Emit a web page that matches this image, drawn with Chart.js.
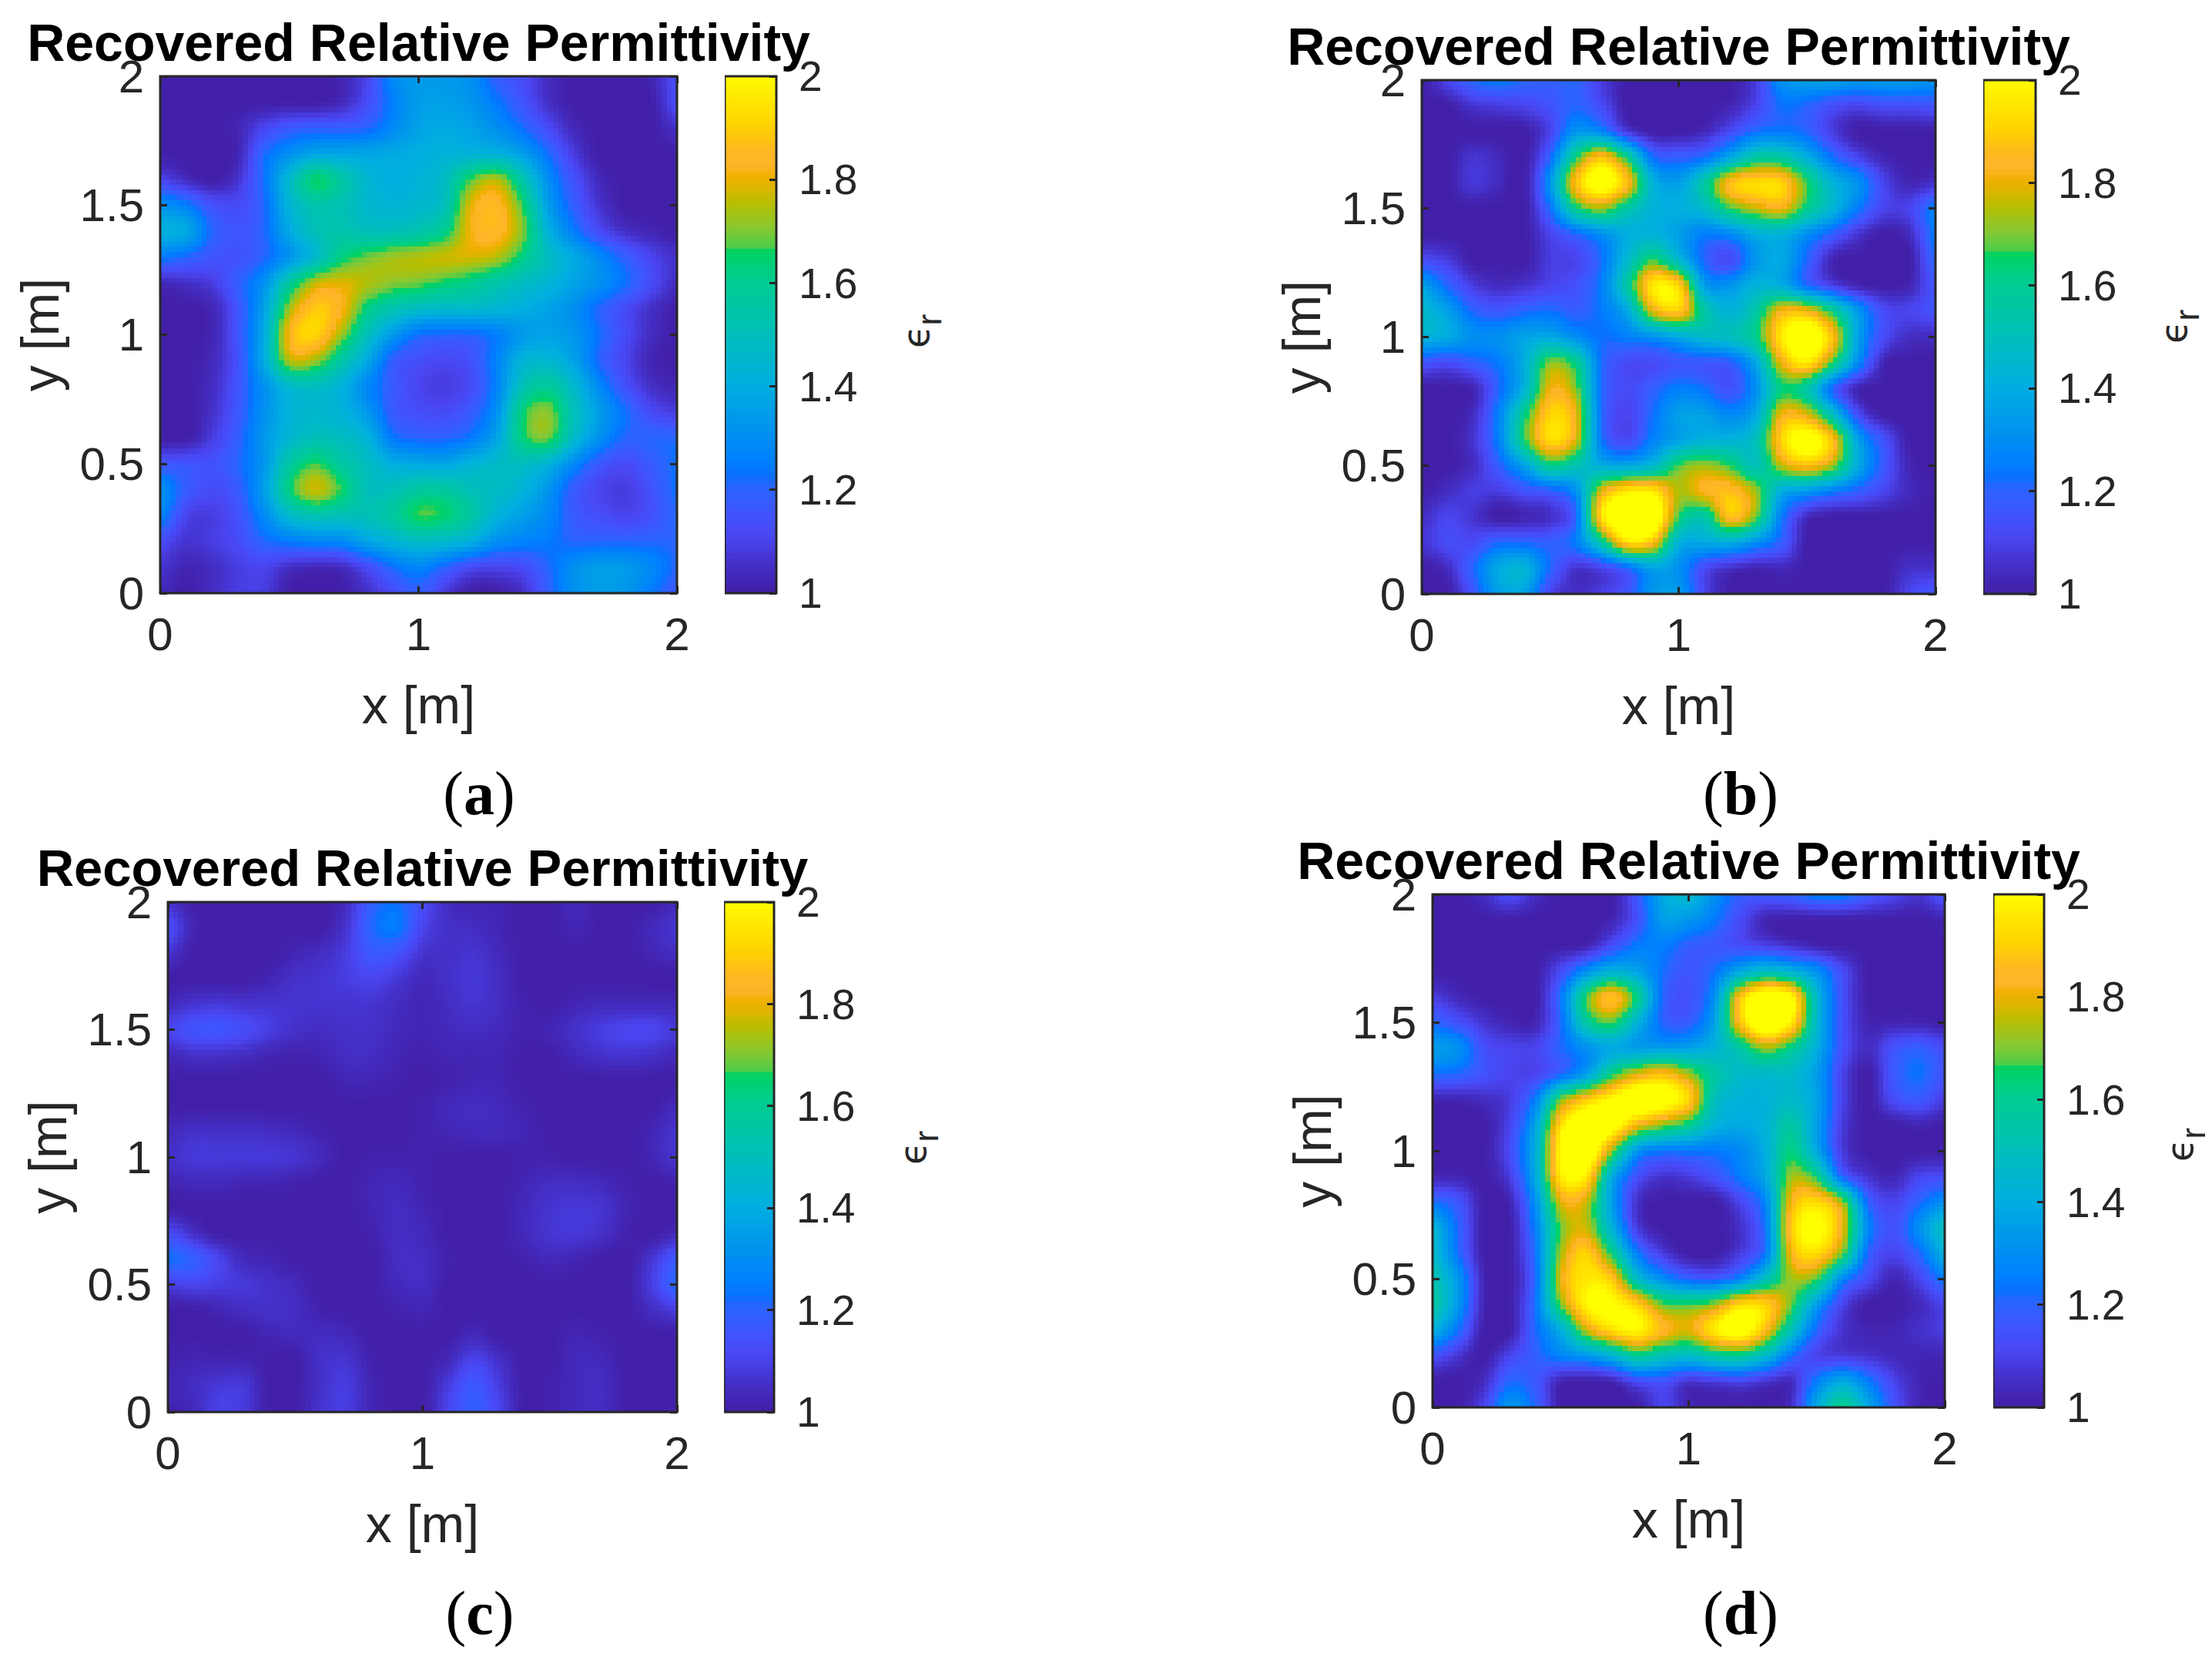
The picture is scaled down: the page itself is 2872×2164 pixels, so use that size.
<!DOCTYPE html>
<html>
<head>
<meta charset="utf-8">
<title>Recovered Relative Permittivity</title>
<script src="https://cdn.jsdelivr.net/npm/chart.js@4"></script>
<style>
  html, body { margin: 0; background: #fff; }
  #page { position: relative; width: 2872px; height: 2164px; overflow: hidden; }
  canvas { position: absolute; }
  .caption { position: absolute; transform: translateX(-50%); font: 80px "Liberation Serif", serif; color: #000; line-height: 1; }
  .caption b { font-weight: bold; }
  .eps { position: absolute; transform: translate(-50%, -50%) rotate(-90deg); font: 48px "DejaVu Sans", sans-serif; color: #262626; white-space: nowrap; }
  .eps sub { font-size: 44px; font-family: "Liberation Sans", sans-serif; vertical-align: -16px; line-height: 0; }
</style>
</head>
<body>
<div id="page"></div>
<script>
const gridX = [0, 0.1, 0.2, 0.3, 0.4, 0.5, 0.6, 0.7, 0.8, 0.9, 1, 1.1, 1.2, 1.3, 1.4, 1.5, 1.6, 1.7, 1.8, 1.9, 2];
const gridY = [2, 1.9, 1.8, 1.7, 1.6, 1.5, 1.4, 1.3, 1.2, 1.1, 1, 0.9, 0.8, 0.7, 0.6, 0.5, 0.4, 0.3, 0.2, 0.1, 0];
const xTicks = [0, 1, 2];
const yTicks = [0, 0.5, 1, 1.5, 2];
const barTicks = [1, 1.2, 1.4, 1.6, 1.8, 2];
const titleText = 'Recovered Relative Permittivity';

// rows run from y = 2 at the top down to y = 0
const panelA = [
  [1,1,1,1,1,1,1,1.02,1.1,1.28,1.33,1.33,1.3,1.18,1.12,1.04,1,1,1,1.02,1.12],
  [1,1,1,1,1,1,1,1.03,1.12,1.25,1.34,1.35,1.32,1.24,1.15,1.05,1,1,1,1,1.12],
  [1,1,1,1.02,1.1,1.16,1.18,1.18,1.2,1.28,1.36,1.38,1.36,1.3,1.22,1.12,1.03,1,1,1,1.05],
  [1,1,1,1.02,1.2,1.3,1.37,1.37,1.37,1.38,1.4,1.42,1.42,1.42,1.35,1.22,1.08,1,1,1,1],
  [1.1,1.04,1,1.06,1.22,1.45,1.64,1.55,1.44,1.4,1.42,1.47,1.66,1.74,1.54,1.3,1.14,1.03,1,1,1],
  [1.3,1.25,1.14,1.12,1.2,1.42,1.53,1.51,1.45,1.43,1.45,1.5,1.78,1.84,1.66,1.35,1.18,1.06,1,1,1],
  [1.4,1.38,1.2,1.15,1.2,1.38,1.5,1.53,1.5,1.5,1.53,1.6,1.8,1.84,1.7,1.42,1.25,1.12,1.05,1.02,1],
  [1.24,1.2,1.15,1.14,1.2,1.32,1.46,1.62,1.68,1.72,1.74,1.76,1.77,1.74,1.62,1.48,1.38,1.28,1.18,1.1,1.05],
  [1.03,1.05,1.08,1.18,1.3,1.56,1.75,1.78,1.74,1.7,1.68,1.64,1.6,1.54,1.48,1.43,1.36,1.3,1.22,1.12,1.04],
  [1,1,1.02,1.15,1.35,1.72,1.88,1.82,1.62,1.52,1.47,1.45,1.45,1.43,1.4,1.36,1.3,1.2,1.12,1.05,1],
  [1,1,1.02,1.15,1.38,1.82,1.9,1.72,1.5,1.33,1.22,1.2,1.2,1.25,1.33,1.36,1.32,1.22,1.12,1.04,1],
  [1,1,1.03,1.14,1.38,1.74,1.72,1.55,1.38,1.18,1.13,1.11,1.14,1.26,1.42,1.44,1.36,1.2,1.1,1.02,1],
  [1,1,1.04,1.15,1.3,1.45,1.48,1.42,1.28,1.17,1.1,1.08,1.12,1.26,1.5,1.58,1.45,1.28,1.14,1.05,1.02],
  [1,1,1.05,1.16,1.3,1.42,1.45,1.42,1.33,1.17,1.13,1.12,1.17,1.3,1.62,1.7,1.5,1.34,1.22,1.12,1.08],
  [1,1,1.08,1.18,1.32,1.44,1.5,1.48,1.42,1.24,1.2,1.2,1.24,1.36,1.62,1.68,1.46,1.3,1.2,1.2,1.2],
  [1.15,1.15,1.14,1.2,1.32,1.55,1.66,1.56,1.48,1.4,1.38,1.37,1.42,1.46,1.48,1.42,1.28,1.16,1.12,1.17,1.22],
  [1.3,1.17,1.12,1.17,1.34,1.62,1.76,1.65,1.5,1.5,1.56,1.56,1.5,1.47,1.42,1.32,1.17,1.1,1.08,1.14,1.22],
  [1.26,1.1,1.08,1.14,1.28,1.45,1.52,1.5,1.5,1.56,1.66,1.64,1.55,1.42,1.35,1.28,1.17,1.13,1.1,1.14,1.2],
  [1.12,1.06,1.08,1.12,1.2,1.24,1.27,1.28,1.36,1.42,1.47,1.45,1.4,1.3,1.26,1.24,1.2,1.2,1.2,1.2,1.2],
  [1.06,1.02,1.04,1.08,1.1,1.05,1.03,1.04,1.12,1.22,1.27,1.2,1.12,1.1,1.12,1.2,1.3,1.34,1.33,1.28,1.2],
  [1.03,1,1.04,1.08,1.08,1,1,1,1.05,1.12,1.18,1.08,1,1,1.05,1.18,1.3,1.34,1.32,1.24,1.16]
];
const panelB = [
  [1,1.1,1.2,1.24,1.2,1.18,1.2,1.08,1,1,1,1,1,1.08,1.3,1.35,1.35,1.32,1.33,1.33,1.3],
  [1,1,1.06,1.08,1.1,1.14,1.2,1.12,1,1,1,1,1.02,1.1,1.22,1.2,1.13,1.1,1.13,1.13,1.15],
  [1,1,1,1,1,1.1,1.32,1.28,1.08,1,1,1.03,1.12,1.22,1.24,1.2,1.08,1,1,1,1],
  [1,1,1.06,1.03,1,1.2,1.62,1.86,1.6,1.22,1.18,1.22,1.38,1.55,1.55,1.4,1.22,1.1,1.02,1,1],
  [1,1,1.07,1.03,1,1.32,1.85,2.05,1.85,1.42,1.35,1.55,1.85,1.92,1.9,1.65,1.42,1.3,1.1,1.02,1.05],
  [1,1,1,1,1,1.22,1.6,1.72,1.55,1.42,1.4,1.46,1.65,1.75,1.8,1.6,1.42,1.24,1.1,1.1,1.25],
  [1,1,1,1,1,1.1,1.2,1.3,1.4,1.42,1.35,1.25,1.28,1.4,1.42,1.3,1.18,1.06,1,1.04,1.24],
  [1.12,1.08,1,1,1,1.08,1.1,1.22,1.45,1.65,1.45,1.2,1.12,1.32,1.38,1.2,1.02,1,1,1,1.2],
  [1.35,1.2,1.08,1.04,1.06,1.1,1.14,1.25,1.55,1.95,1.9,1.35,1.32,1.42,1.4,1.22,1.1,1.02,1,1.02,1.15],
  [1.45,1.35,1.2,1.16,1.2,1.22,1.18,1.24,1.38,1.78,1.88,1.55,1.42,1.55,1.82,1.82,1.6,1.32,1.12,1.1,1.14],
  [1.42,1.38,1.3,1.3,1.36,1.38,1.3,1.22,1.25,1.3,1.38,1.45,1.48,1.6,1.95,2.1,1.85,1.35,1.12,1.04,1.04],
  [1.15,1.12,1.18,1.24,1.4,1.7,1.6,1.22,1.12,1.12,1.16,1.16,1.18,1.38,1.8,1.95,1.65,1.28,1.02,1,1],
  [1,1,1.02,1.2,1.42,1.8,1.7,1.22,1.12,1.18,1.25,1.22,1.14,1.3,1.62,1.55,1.2,1.02,1,1,1],
  [1,1,1.04,1.26,1.6,1.9,1.8,1.22,1.1,1.22,1.35,1.35,1.28,1.38,1.8,1.78,1.48,1.12,1,1,1],
  [1,1,1.06,1.26,1.64,1.92,1.78,1.24,1.12,1.26,1.36,1.42,1.42,1.5,1.9,2.05,1.85,1.35,1.14,1,1],
  [1,1,1.04,1.18,1.36,1.6,1.52,1.4,1.38,1.45,1.66,1.72,1.65,1.5,1.75,1.85,1.72,1.38,1.16,1.02,1],
  [1,1.04,1.08,1.08,1.14,1.18,1.3,1.78,1.95,1.95,1.74,1.82,1.86,1.72,1.4,1.33,1.25,1.18,1.1,1.03,1],
  [1.04,1.1,1.06,1,1.02,1.05,1.2,1.92,2.15,2.12,1.65,1.55,1.86,1.68,1.25,1.04,1,1,1,1,1],
  [1.06,1.12,1.12,1.2,1.2,1.18,1.25,1.55,1.92,1.85,1.42,1.38,1.4,1.3,1.18,1,1,1,1,1,1],
  [1,1.04,1.2,1.38,1.42,1.2,1.06,1.1,1.2,1.36,1.3,1.12,1.05,1.02,1.03,1,1,1,1,1.05,1.05],
  [1,1,1.15,1.35,1.36,1.1,1.04,1.08,1.15,1.32,1.33,1.1,1,1,1,1,1,1,1,1.1,1.15]
];
const panelC = [
  [1.05,1,1,1,1,1,1,1.04,1.18,1.22,1.12,1.04,1.02,1.02,1,1,1.03,1,1,1,1.03],
  [1.12,1.02,1,1,1,1,1,1.06,1.2,1.24,1.1,1.05,1.04,1.02,1,1,1.02,1,1,1.03,1.06],
  [1.06,1,1,1,1,1.02,1.04,1.08,1.16,1.14,1.06,1.05,1.06,1.03,1,1,1,1,1,1.02,1.04],
  [1,1,1,1,1.02,1.05,1.06,1.08,1.1,1.07,1.03,1.05,1.07,1.04,1,1,1,1,1,1,1],
  [1.03,1.06,1.07,1.06,1.06,1.06,1.06,1.06,1.06,1.04,1.02,1.04,1.06,1.04,1.01,1,1.02,1.03,1.03,1.03,1.03],
  [1.1,1.14,1.15,1.12,1.08,1.05,1.04,1.05,1.05,1.03,1.02,1.03,1.04,1.03,1.01,1.02,1.05,1.08,1.1,1.1,1.07],
  [1.03,1.05,1.05,1.04,1.02,1.01,1.02,1.04,1.04,1.02,1.01,1.02,1.02,1.02,1,1,1.03,1.05,1.06,1.05,1.03],
  [1,1,1,1,1,1,1,1.02,1.02,1.01,1,1.01,1.02,1.02,1,1,1,1,1,1,1],
  [1,1,1,1,1,1,1,1,1,1,1.01,1.03,1.04,1.03,1.01,1,1,1,1,1,1.03],
  [1.03,1.05,1.05,1.05,1.04,1.03,1.01,1,1,1,1.01,1.02,1.03,1.03,1.02,1,1,1,1,1.02,1.06],
  [1.05,1.07,1.07,1.07,1.07,1.06,1.03,1,1.01,1.01,1.01,1,1,1,1.01,1.01,1,1,1,1.02,1.06],
  [1.02,1.03,1.03,1.02,1.02,1.01,1,1,1.02,1.03,1.01,1,1,1,1.02,1.04,1.04,1.03,1.01,1,1.01],
  [1,1,1,1,1,1,1,1,1.02,1.04,1.02,1,1,1,1.03,1.06,1.07,1.06,1.02,1,1],
  [1.12,1.05,1,1,1,1,1,1,1.01,1.04,1.03,1,1,1,1.03,1.06,1.07,1.05,1.01,1,1.03],
  [1.22,1.18,1.1,1.03,1.02,1,1,1,1,1.04,1.04,1.01,1,1,1.01,1.03,1.02,1,1,1.06,1.16],
  [1.08,1.1,1.08,1.07,1.05,1.03,1,1,1,1.03,1.04,1,1,1,1,1,1,1,1,1.08,1.2],
  [1,1,1.02,1.04,1.05,1.04,1.01,1,1,1.01,1.02,1,1,1,1,1,1,1,1,1.04,1.08],
  [1,1,1,1,1.02,1.03,1.04,1.03,1,1,1,1,1.03,1,1,1,1.02,1.01,1,1,1],
  [1.01,1.02,1.02,1.02,1,1,1.05,1.06,1.01,1,1,1.03,1.1,1.05,1,1,1.03,1.03,1,1,1],
  [1.02,1.04,1.07,1.07,1,1,1.05,1.08,1.02,1,1,1.08,1.16,1.08,1,1.01,1.03,1.04,1,1,1],
  [1.01,1.03,1.09,1.07,1,1,1.06,1.08,1.02,1,1,1.1,1.18,1.1,1,1.01,1.03,1.04,1,1,1]
];
const panelD = [
  [1,1,1.04,1.12,1.04,1,1,1,1.16,1.38,1.44,1.3,1.18,1.16,1.18,1.24,1.24,1.16,1.1,1.06,1.14],
  [1,1,1,1,1,1,1,1.02,1.14,1.34,1.32,1.24,1.12,1.02,1,1,1,1,1,1,1.02],
  [1,1,1,1,1,1,1.02,1.13,1.24,1.25,1.18,1.16,1.13,1.1,1.06,1.02,1,1,1,1,1],
  [1,1,1,1,1,1.12,1.3,1.42,1.36,1.22,1.15,1.22,1.38,1.48,1.42,1.3,1.12,1,1,1,1],
  [1.08,1.03,1,1,1,1.22,1.65,1.86,1.6,1.2,1.14,1.3,1.85,2.1,2,1.45,1.14,1,1,1,1],
  [1.2,1.14,1.06,1.02,1.02,1.2,1.55,1.66,1.42,1.2,1.18,1.36,1.85,2.12,1.95,1.45,1.14,1.02,1.02,1.02,1],
  [1.34,1.3,1.13,1.1,1.1,1.2,1.3,1.38,1.35,1.35,1.36,1.42,1.55,1.72,1.6,1.4,1.14,1.04,1.14,1.18,1.12],
  [1.22,1.2,1.14,1.1,1.1,1.2,1.35,1.62,1.78,1.85,1.72,1.55,1.46,1.46,1.46,1.34,1.1,1,1.16,1.22,1.14],
  [1.02,1.02,1.04,1.08,1.25,1.68,1.88,2,2.1,2.05,1.9,1.5,1.42,1.42,1.46,1.36,1.1,1,1.12,1.16,1.08],
  [1,1,1,1.1,1.36,1.92,2.1,2.05,1.82,1.7,1.6,1.42,1.38,1.42,1.55,1.35,1.08,1,1,1.02,1],
  [1,1,1,1.12,1.4,2,2.12,1.72,1.32,1.24,1.24,1.24,1.28,1.4,1.62,1.38,1.08,1,1,1,1],
  [1.02,1.02,1,1.08,1.38,1.95,1.95,1.4,1.14,1.06,1.08,1.14,1.24,1.38,1.72,1.62,1.2,1.06,1.02,1.1,1.12],
  [1.22,1.15,1,1.02,1.3,1.78,1.76,1.35,1.05,1,1,1,1.1,1.28,1.82,1.92,1.72,1.2,1.1,1.2,1.3],
  [1.42,1.2,1,1,1.25,1.68,1.76,1.42,1.08,1,1,1,1.05,1.24,1.88,2.02,1.8,1.28,1.14,1.3,1.48],
  [1.46,1.22,1,1,1.22,1.72,1.9,1.62,1.25,1.08,1,1,1.08,1.24,1.82,1.92,1.68,1.2,1.1,1.2,1.4],
  [1.52,1.32,1.02,1,1.2,1.78,1.95,1.88,1.48,1.3,1.2,1.18,1.28,1.5,1.72,1.66,1.28,1.12,1.02,1.1,1.24],
  [1.55,1.32,1.02,1,1.22,1.68,1.98,2,1.9,1.68,1.66,1.72,1.92,1.9,1.68,1.34,1.1,1,1,1.03,1.1],
  [1.4,1.22,1,1,1.2,1.4,1.75,1.92,1.98,1.84,1.78,1.95,2.05,1.84,1.5,1.2,1.06,1.02,1.02,1.05,1.08],
  [1.14,1.06,1,1.1,1.18,1.26,1.32,1.42,1.58,1.5,1.46,1.55,1.58,1.45,1.22,1.1,1.08,1.06,1.03,1.02,1.02],
  [1,1,1.04,1.2,1.16,1.02,1,1.02,1.12,1.14,1.06,1.08,1.1,1.06,1.04,1.25,1.38,1.25,1.1,1.02,1],
  [1,1,1.1,1.32,1.2,1,1,1,1,1.1,1.02,1,1,1,1.05,1.38,1.6,1.38,1.15,1.02,1]
];

// colour scale
const colorValues = [1, 1.05, 1.1, 1.15, 1.2, 1.22, 1.25, 1.3, 1.4, 1.5, 1.6, 1.654, 1.664, 1.7, 1.75, 1.78, 1.8, 1.82, 1.85, 1.9, 1.95, 2];
const colorStops = ['#421fa8', '#4430c8', '#4a45f0', '#3f55ff', '#2a65ff', '#0a70ff', '#0080ff', '#008ff0', '#00afdf', '#00c0b8', '#00cc90', '#00d264', '#50cc48', '#88c832', '#bbbe00', '#e0b400', '#f0b000', '#ffb42a', '#ffb820', '#ffd400', '#ffe800', '#ffff00'];

const PAD_L = 185, PAD_T = 73, PAD_B = 184, AXIS = '#262626', BLOCKS = 100;

const panels = [
  { grid: panelA, left: 208, right: 879, top: 99, bottom: 770, barL: 941, barR: 1008, label: [1189, 430], cap: 'a', capX: 622, capY: 990, titleSize: 68 },
  { grid: panelB, left: 1846, right: 2513, top: 104, bottom: 771, barL: 2575, barR: 2643, label: [2822, 424], cap: 'b', capX: 2260, capY: 990, titleSize: 68 },
  { grid: panelC, left: 218, right: 879, top: 1171, bottom: 1833, barL: 940, barR: 1005, label: [1185, 1490], cap: 'c', capX: 623, capY: 2054, titleSize: 67 },
  { grid: panelD, left: 1860, right: 2525, top: 1161, bottom: 1827, barL: 2588, barR: 2654, label: [2830, 1486], cap: 'd', capX: 2260, capY: 2054, titleSize: 68 }
];

function hexRgb(h) {
  return [parseInt(h.slice(1, 3), 16), parseInt(h.slice(3, 5), 16), parseInt(h.slice(5, 7), 16)];
}
const stopRgb = colorStops.map(hexRgb);

function colorAt(v) {
  v = Math.min(2, Math.max(1, v));
  let k = 0;
  while (k < colorValues.length - 2 && v > colorValues[k + 1]) k++;
  const t = (v - colorValues[k]) / (colorValues[k + 1] - colorValues[k]);
  const a = stopRgb[k], b = stopRgb[k + 1];
  return `rgb(${Math.round(a[0] + (b[0] - a[0]) * t)},${Math.round(a[1] + (b[1] - a[1]) * t)},${Math.round(a[2] + (b[2] - a[2]) * t)})`;
}

function cubic(p0, p1, p2, p3, t) {
  return p1 + 0.5 * t * (p2 - p0 + t * (2 * p0 - 5 * p1 + 4 * p2 - p3 + t * (3 * (p1 - p2) + p3 - p0)));
}

// smooth shading between the grid values, like shading interp
function sampleGrid(grid, gx, gy) {
  const n = grid.length - 1;
  const i = Math.min(n - 1, Math.floor(gx)), j = Math.min(n - 1, Math.floor(gy));
  const at = (a, b) => grid[Math.max(0, Math.min(n, b))][Math.max(0, Math.min(n, a))];
  const rows = [];
  for (let b = -1; b <= 2; b++) {
    rows.push(cubic(at(i - 1, j + b), at(i, j + b), at(i + 1, j + b), at(i + 2, j + b), gx - i));
  }
  return cubic(rows[0], rows[1], rows[2], rows[3], gy - j);
}

const heatPlugin = {
  id: 'heat',
  beforeDatasetsDraw(chart) {
    const { ctx, scales } = chart;
    const grid = chart.options.plugins.heat.grid;
    const span = gridX[gridX.length - 1] - gridX[0];
    for (let r = 0; r < BLOCKS; r++) {
      const yTop = Math.round(scales.y.getPixelForValue(2 - span * r / BLOCKS));
      const yBot = Math.round(scales.y.getPixelForValue(2 - span * (r + 1) / BLOCKS));
      for (let c = 0; c < BLOCKS; c++) {
        const xL = Math.round(scales.x.getPixelForValue(span * c / BLOCKS));
        const xR = Math.round(scales.x.getPixelForValue(span * (c + 1) / BLOCKS));
        const gx = (c + 0.5) / BLOCKS * (gridX.length - 1);
        const gy = (r + 0.5) / BLOCKS * (gridY.length - 1);
        ctx.fillStyle = colorAt(sampleGrid(grid, gx, gy));
        ctx.fillRect(xL, yTop, xR - xL, yBot - yTop);
      }
    }
  }
};

const framePlugin = {
  id: 'frame',
  afterDatasetsDraw(chart) {
    const a = chart.chartArea, ctx = chart.ctx;
    ctx.save();
    ctx.strokeStyle = AXIS;
    ctx.lineWidth = 3;
    ctx.strokeRect(a.left, a.top, a.right - a.left, a.bottom - a.top);
    ctx.restore();
  }
};

function addCanvas(left, top, w, h) {
  const c = document.createElement('canvas');
  c.width = w;
  c.height = h;
  c.style.left = left + 'px';
  c.style.top = top + 'px';
  document.getElementById('page').appendChild(c);
  return c;
}

function axisOptions(position, ticks, showLabels, size, padding, label, fontSize) {
  const horizontal = position === 'top' || position === 'bottom';
  return {
    type: 'linear',
    position: position,
    min: 0,
    max: 2,
    afterBuildTicks: s => { s.ticks = ticks.map(v => ({ value: v })); },
    afterFit: s => { if (s.isHorizontal()) s.height = size; else s.width = size; },
    border: { display: false, z: 1 },
    grid: { drawOnChartArea: false, tickLength: -9, tickWidth: 3, tickColor: AXIS, z: 1 },
    ticks: {
      display: showLabels,
      autoSkip: false,
      maxRotation: 0,
      minRotation: 0,
      padding: padding,
      labelOffset: horizontal ? 0 : 4,
      color: AXIS,
      z: 1,
      font: { family: 'Liberation Sans', size: fontSize || 60, lineHeight: 1 },
      callback: v => String(v)
    },
    title: label ? { display: true, text: label, color: AXIS, padding: 0, font: { family: 'Liberation Sans', size: 68, lineHeight: 1 } } : { display: false }
  };
}

function drawHeat(p) {
  const w = PAD_L * 2 + (p.right - p.left);
  const h = PAD_T + (p.bottom - p.top) + PAD_B;
  const canvas = addCanvas(p.left - PAD_L, p.top - PAD_T, w, h);
  const points = [];
  gridY.forEach((y, j) => gridX.forEach((x, i) => points.push({ x: x, y: y, v: p.grid[j][i] })));
  new Chart(canvas, {
    type: 'scatter',
    data: { datasets: [{ data: points, pointRadius: 0, showLine: false }] },
    plugins: [heatPlugin, framePlugin],
    options: {
      responsive: false,
      animation: false,
      devicePixelRatio: 1,
      layout: { padding: 0 },
      plugins: {
        legend: { display: false },
        tooltip: { enabled: false },
        heat: { grid: p.grid },
        title: {
          display: true,
          text: titleText,
          color: '#000',
          padding: { top: 0, bottom: PAD_T - p.titleSize },
          font: { family: 'Liberation Sans', size: p.titleSize, weight: 'bold', lineHeight: 1 }
        }
      },
      scales: {
        x: axisOptions('bottom', xTicks, true, PAD_B, 36, 'x [m]'),
        y: axisOptions('left', yTicks, true, PAD_L, 30, 'y [m]'),
        xTop: axisOptions('top', xTicks, false, 0, 0),
        yRight: axisOptions('right', yTicks, false, PAD_L, 0)
      }
    }
  });
}

function drawBar(p) {
  const barW = p.barR - p.barL, right = 150, pad = 90;
  const canvas = addCanvas(p.barL, p.top - pad, barW + right, p.bottom - p.top + pad * 2);
  const levels = [];
  for (let k = 0; k < BLOCKS; k++) levels.push(1 + k / BLOCKS);
  const y = axisOptions('right', barTicks, true, right, 38, null, 55);
  y.min = 1;
  new Chart(canvas, {
    type: 'bar',
    data: {
      labels: [''],
      datasets: levels.map(v => ({
        data: [[v, v + 1.6 / BLOCKS]],
        backgroundColor: colorAt(v + 0.5 / BLOCKS),
        barPercentage: 1,
        categoryPercentage: 1,
        grouped: false
      }))
    },
    plugins: [framePlugin],
    options: {
      responsive: false,
      animation: false,
      devicePixelRatio: 1,
      layout: { padding: { top: pad, bottom: pad, left: 0, right: 0 } },
      plugins: { legend: { display: false }, tooltip: { enabled: false } },
      scales: { x: { display: false }, y: y }
    }
  });
}

panels.forEach(p => {
  drawHeat(p);
  drawBar(p);
  const cap = document.createElement('div');
  cap.className = 'caption';
  cap.innerHTML = '(<b>' + p.cap + '</b>)';
  cap.style.left = p.capX + 'px';
  cap.style.top = p.capY + 'px';
  document.getElementById('page').appendChild(cap);
  const eps = document.createElement('div');
  eps.className = 'eps';
  eps.innerHTML = '\u03f5<sub>r</sub>';
  eps.style.left = p.label[0] + 'px';
  eps.style.top = p.label[1] + 'px';
  document.getElementById('page').appendChild(eps);
});
</script>
</body>
</html>
